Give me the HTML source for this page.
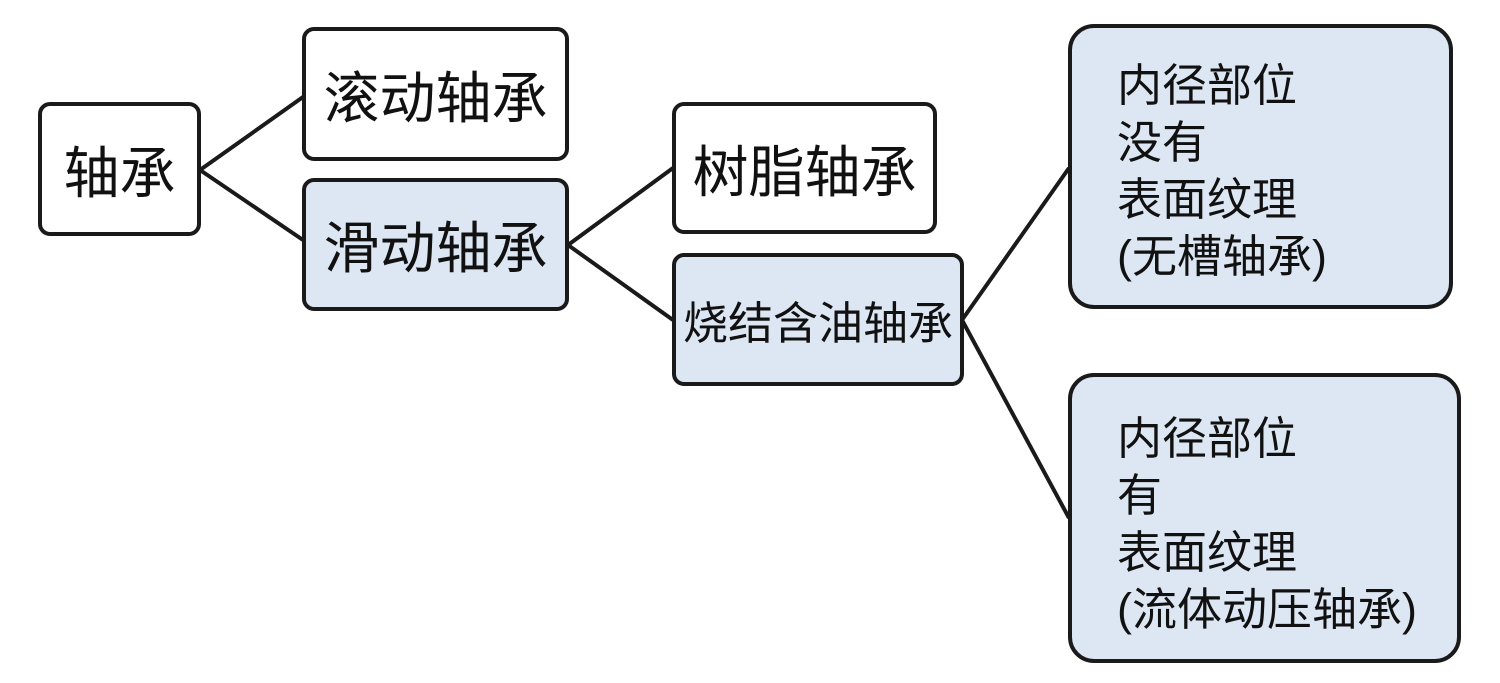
<!DOCTYPE html>
<html><head><meta charset="utf-8"><style>
html,body{margin:0;padding:0;background:#fff;}
body{width:1500px;height:683px;position:relative;overflow:hidden;font-family:"Liberation Sans","Noto Sans CJK SC",sans-serif;color:#111;}
.b{position:absolute;box-sizing:border-box;border:4px solid #1a1a1a;border-radius:12px;background:#fff;display:flex;align-items:center;justify-content:center;font-size:56px;white-space:nowrap;}
.f{background:#dde7f3;}
.big{border-radius:26px;justify-content:flex-start;align-items:flex-start;font-size:45px;line-height:57px;padding-left:45px;}
svg{position:absolute;left:0;top:0;}
</style></head><body>
<svg width="1500" height="683"><g stroke="#1a1a1a" stroke-width="4" fill="none">
<line x1="200" y1="170" x2="303" y2="97"/><line x1="200" y1="170" x2="303" y2="240"/>
<line x1="568" y1="245" x2="673" y2="168"/><line x1="568" y1="245" x2="673" y2="320"/>
<line x1="962" y1="320" x2="1069" y2="168"/><line x1="962" y1="320" x2="1069" y2="518"/>
</g></svg>
<div class="b" style="left:38px;top:102px;width:163px;height:134px;">轴承</div>
<div class="b" style="left:302px;top:27px;width:267px;height:134px;">滚动轴承</div>
<div class="b f" style="left:302px;top:178px;width:267px;height:133px;">滑动轴承</div>
<div class="b" style="left:672px;top:102px;width:265px;height:132px;">树脂轴承</div>
<div class="b f" style="left:672px;top:253px;width:292px;height:133px;font-size:45px;">烧结含油轴承</div>
<div class="b f big" style="left:1068px;top:24px;width:385px;height:285px;padding-top:29px;">内径部位<br>没有<br>表面纹理<br>(无槽轴承)</div>
<div class="b f big" style="left:1068px;top:373px;width:393px;height:290px;padding-top:33px;">内径部位<br>有<br>表面纹理<br>(流体动压轴承)</div>
</body></html>
